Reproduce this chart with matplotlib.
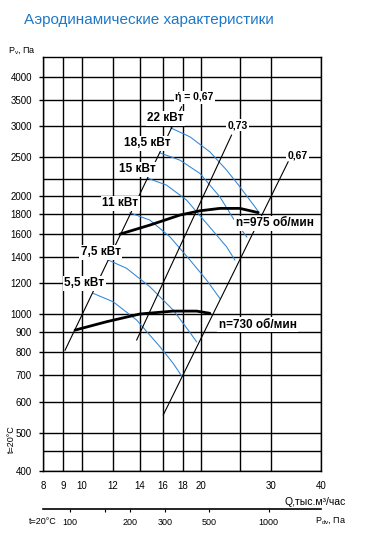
import numpy as np
import matplotlib
matplotlib.use("Agg")
import matplotlib.pyplot as plt
from matplotlib.ticker import NullLocator
from matplotlib import font_manager

plt.rcParams['font.family'] = ['Liberation Sans', 'DejaVu Sans']

# Axis ticks / grid
q_ticks = [8, 9, 10, 12, 14, 16, 18, 20, 30, 40]
q_extra = [25]
p_ticks = [400, 500, 600, 700, 800, 900, 1000, 1200, 1400, 1600, 1800,
           2000, 2500, 3000, 3500, 4000]
p_extra = [450, 2200]
pdv_ticks = [100, 150, 200, 300, 500, 1000]
pdv_labels = ['100', '', '200', '300', '500', '1000']
pdv_coef = 1.144  # Pdv = coef * Q^2

# Power curves (Q, тыс.м3/час ; Pv, Па)
q_22 = [16.75, 18.73, 21.02, 23.16, 25.01, 27.91]
p_22 = [2970, 2818, 2581, 2320, 2104, 1815]
q_185 = [15.74, 17.67, 19.84, 22.27, 24.06, 26.04]
p_185 = [2566, 2459, 2276, 1985, 1750, 1569]
q_15 = [14.71, 16.36, 18.37, 20.63, 23.16, 24.29]
p_15 = [2210, 2125, 1947, 1699, 1482, 1372]
q_11 = [13.23, 14.86, 16.68, 18.73, 20.63, 22.27]
p_11 = [1808, 1732, 1571, 1372, 1220, 1097]
q_75 = [11.67, 12.98, 14.86, 17.0, 18.54, 19.47]
p_75 = [1372, 1307, 1173, 1024, 911, 851]
q_55 = [10.70, 12.01, 13.76, 15.74, 17.0, 17.85]
p_55 = [1129, 1075, 966, 827, 750, 697]

# Fan characteristics
q_975 = [12.49, 14.86, 17.67, 19.84, 22.27, 25.01, 27.8]
p_975 = [1596, 1683, 1784, 1829, 1855, 1855, 1810]
q_730 = [9.63, 11.57, 14.02, 17.0, 19.47, 21.02]
p_730 = [911, 957, 1001, 1018, 1018, 1005]

# Efficiency lines
q_eta_left = [9.09, 17.85]
p_eta_left = [810, 3357]
q_eta_73 = [13.76, 23.83]
p_eta_73 = [860, 2846]
q_eta_right = [16.05, 33.07]
p_eta_right = [555, 2435]

blue = '#2f86d6'

fig = plt.figure(figsize=(3.67, 5.43), dpi=100)
ax = fig.add_axes([0.11717, 0.13260, 0.75749, 0.76298])
ax.set_xscale('log')
ax.set_yscale('log')
ax.set_xlim(8, 40)
ax.set_ylim(400, 4500)

ax.set_xticks(q_ticks, [str(v) for v in q_ticks])
ax.set_xticks(q_extra, minor=True)
ax.set_yticks(p_ticks, [str(v) for v in p_ticks])
ax.set_yticks(p_extra, minor=True)
ax.xaxis.set_minor_formatter(plt.NullFormatter())
ax.yaxis.set_minor_formatter(plt.NullFormatter())
ax.grid(True, which='both', color='black', lw=1.0)
ax.tick_params(axis='x', which='both', length=0, pad=7.5, labelsize=7)
ax.tick_params(axis='y', which='major', direction='out', length=3, width=1,
               pad=5, labelsize=7)
ax.tick_params(axis='y', which='minor', length=0)
for s in ax.spines.values():
    s.set_linewidth(1.0)

for q, p in [(q_22, p_22), (q_185, p_185), (q_15, p_15),
             (q_11, p_11), (q_75, p_75), (q_55, p_55)]:
    ax.plot(q, p, color=blue, lw=0.75, zorder=3)

for q, p in [(q_eta_left, p_eta_left), (q_eta_73, p_eta_73),
             (q_eta_right, p_eta_right)]:
    ax.plot(q, p, color='black', lw=0.8, zorder=3)

ax.plot(q_975, p_975, color='black', lw=2.0, solid_capstyle='round', zorder=4)
ax.plot(q_730, p_730, color='black', lw=2.0, solid_capstyle='round', zorder=4)

notes = [("ή = 0,67", 19.2, 3550), ("22 кВт", 16.25, 3137),
         ("0,73", 24.65, 3017), ("18,5 кВт", 14.64, 2711),
         ("15 кВт", 13.78, 2333), ("11 кВт", 12.53, 1910),
         ("7,5 кВт", 11.16, 1434), ("5,5 кВт", 10.17, 1197),
         ("0,67", 34.88, 2532), ("n=975 об/мин", 30.57, 1699),
         ("n=730 об/мин", 27.75, 941)]
for txt, q, p in notes:
    small = txt.startswith("0,") or txt.startswith("ή")
    ax.text(q, p, txt, ha='center', va='center',
            fontsize=7.5 if small else 8.5, fontweight='bold', zorder=6,
            bbox=dict(boxstyle='square,pad=0.12', fc='white', ec='none'))

# Dynamic pressure axis
sec = ax.secondary_xaxis(-0.0924, functions=(lambda q: pdv_coef * np.asarray(q) ** 2,
                                             lambda p: np.sqrt(np.asarray(p) / pdv_coef)))
sec.set_xticks(pdv_ticks, pdv_labels)
sec.xaxis.set_minor_locator(NullLocator())
sec.tick_params(axis='x', direction='out', length=2.5, width=0.8, pad=4,
                labelsize=6.5)
sec.spines['bottom'].set_linewidth(1.2)

# title: narrow font if there is one
names = {f.name for f in font_manager.fontManager.ttflist}
if 'Liberation Sans Narrow' in names:
    title_font, title_size = ['Liberation Sans Narrow', 'DejaVu Sans'], 13
else:
    title_font, title_size = ['Liberation Sans', 'DejaVu Sans'], 11
fig.text(24 / 367, 1 - 24.3 / 543, "Аэродинамические характеристики",
         family=title_font, fontsize=title_size, color='#1e78c8',
         ha='left', va='baseline')

fig.text(22 / 367, 1 - 51 / 543, r"P$_\mathregular{v}$, Па", fontsize=6.5,
         ha='center', va='center')
fig.text(11.5 / 367, 1 - 439 / 543, "t=20°C", fontsize=6.5, rotation=90,
         ha='center', va='center')
fig.text(315.5 / 367, 1 - 501.7 / 543, "Q,тыс.м³/час", fontsize=7.5,
         ha='center', va='center')
fig.text(42.5 / 367, 1 - 521.7 / 543, "t=20°C", fontsize=6.5,
         ha='center', va='center')
fig.text(331 / 367, 1 - 520 / 543, r"P$_\mathregular{dv}$, Па", fontsize=6.5,
         ha='center', va='center')

fig.savefig("out.png", dpi=100)
